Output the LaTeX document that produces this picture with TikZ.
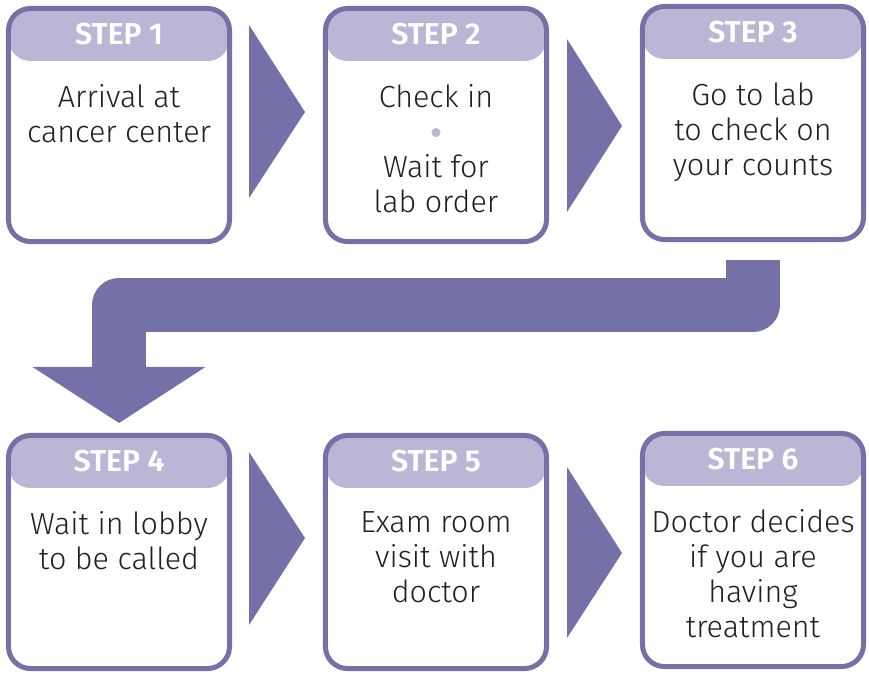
\documentclass[tikz,border=0pt]{standalone}
\usepackage{fontspec}
\setmainfont{Fira Sans Light}[BoldFont={Fira Sans SemiBold}]
\usetikzlibrary{arrows.meta}
\definecolor{stepframe}{RGB}{118,112,168}
\definecolor{stephead}{RGB}{187,182,214}
\definecolor{stepink}{RGB}{35,31,32}

\begin{document}
\begin{tikzpicture}[x=0.025cm,y=-0.025cm,
  stepbox/.style={draw=stepframe,line width=0.125cm,rounded corners=0.55cm,
    minimum width=5.525cm,minimum height=5.825cm,outer sep=0pt,
    path picture={\fill[stephead] (path picture bounding box.north west)
      rectangle ([yshift=-1.3125cm]path picture bounding box.north east);}},
  steptitle/.style={anchor=base,text=white,font=\fontsize{21.5}{24}\selectfont\bfseries},
  steptext/.style={anchor=north,inner sep=0pt,align=center,text=stepink,
    font=\fontsize{21.7}{24.9}\selectfont,execute at begin node=\strut},
  tri/.style={fill=stepframe},
  bigarrow/.style={draw=stepframe,line width=1.35cm,line join=round,
    -{Triangle[width=4.325cm,length=1.4cm,line width=0pt]}}]
\useasboundingbox (0,0) rectangle (869,673);

\node[stepbox] (s1) at (119,125) {};
\node[stepbox] (s2) at (436,125) {};
\node[stepbox] (s3) at (753,123) {};
\node[stepbox] (s4) at (119,552) {};
\node[stepbox] (s5) at (436,552) {};
\node[stepbox] (s6) at (753,550) {};

\node[steptitle] at ([yshift=-0.9125cm]s1.north) {STEP 1};
\node[steptitle] at ([yshift=-0.9125cm]s2.north) {STEP 2};
\node[steptitle] at ([yshift=-0.9125cm]s3.north) {STEP 3};
\node[steptitle] at ([yshift=-0.9125cm]s4.north) {STEP 4};
\node[steptitle] at ([yshift=-0.9125cm]s5.north) {STEP 5};
\node[steptitle] at ([yshift=-0.9125cm]s6.north) {STEP 6};

\node[steptext] at ([yshift=-1.9cm]s1.north) {Arrival at\\cancer center};
\node[steptext] at ([yshift=-1.9cm]s2.north) {Check in\\~\\Wait for\\lab order};
\node[steptext] at ([yshift=-1.9cm]s3.north) {Go to lab\\to check on\\your counts};
\node[steptext] at ([yshift=-1.9cm]s4.north) {Wait in lobby\\to be called};
\node[steptext] at ([yshift=-1.9cm]s5.north) {Exam room\\visit with\\doctor};
\node[steptext] at ([yshift=-1.9cm]s6.north) {Doctor decides\\if you are\\having\\treatment};
\fill[stephead] ([yshift=-3.1cm]s2.north) circle (0.115cm);

\fill[tri] (249,25) -- (305,112) -- (249,198) -- cycle;
\fill[tri] (567,39) -- (622,126) -- (567,212) -- cycle;
\fill[tri] (249,452) -- (305,538) -- (249,625) -- cycle;
\fill[tri] (567,467) -- (622,553) -- (567,638) -- cycle;

\draw[bigarrow] ([yshift=-0.5125cm]s3.south) |- ([yshift=3.2625cm]s4.north)
  -- ([yshift=0.3125cm]s4.north);
\end{tikzpicture}
\end{document}
